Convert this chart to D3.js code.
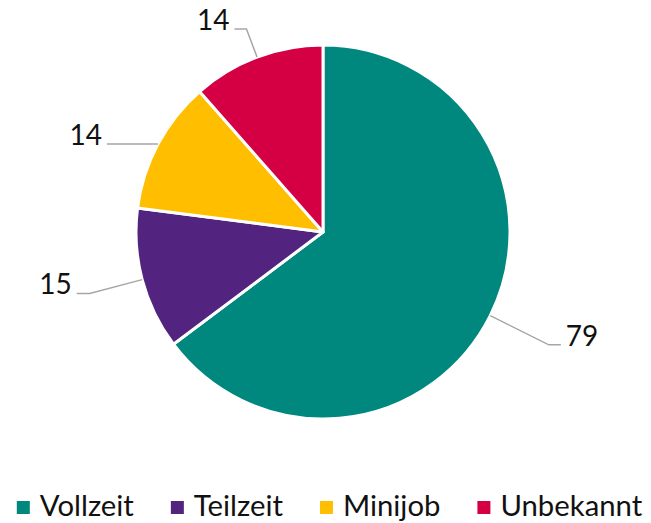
<!DOCTYPE html>
<html>
<head>
<meta charset="utf-8">
<script src="https://cdn.jsdelivr.net/npm/d3@7"></script>
<style>
  html, body { margin: 0; padding: 0; background: #fff; }
  svg { display: block; }
  text { font-family: Lato, "Open Sans", sans-serif; fill: #111; }
</style>
</head>
<body>
<script>
// Data
const categories = ["Vollzeit", "Teilzeit", "Minijob", "Unbekannt"];
const values = [79, 15, 14, 14];
const colors = ["#00877E", "#52247F", "#FFBF00", "#D40043"];

// Label layout (elbow radius factor, horizontal segment length)
const labelElbowK = [1.35, 1.29, 1.0, 1.16];
const labelHoriz = [12, 13, 51, 12];

const W = 651, H = 523;
const cx = 323, cy = 232, R = 187;
const fontSize = 28;
const legendFontSize = 29.3;

const svg = d3.select("body").append("svg").attr("width", W).attr("height", H);
const g = svg.append("g").attr("transform", `translate(${cx},${cy})`);

const data = categories.map((c, i) => ({ name: c, value: values[i], color: colors[i], i }));
const pie = d3.pie().value(d => d.value).sort(null).startAngle(0).endAngle(2 * Math.PI);
const arcs = pie(data);
const arc = d3.arc().innerRadius(0).outerRadius(R);

g.selectAll("path.slice").data(arcs).enter().append("path")
  .attr("class", "slice")
  .attr("d", arc)
  .attr("fill", d => d.data.color)
  .attr("stroke", "#fff")
  .attr("stroke-width", 3)
  .attr("stroke-linejoin", "round");

// Leader lines and labels
function pt(angle, r) { return [r * Math.sin(angle), -r * Math.cos(angle)]; }
arcs.forEach((a, i) => {
  const mid = (a.startAngle + a.endAngle) / 2;
  const p0 = pt(mid, R);
  const p1 = pt(mid, R * labelElbowK[i]);
  const right = Math.sin(mid) > 0;
  const p2 = [p1[0] + (right ? 1 : -1) * labelHoriz[i], p1[1]];
  g.append("polyline")
    .attr("points", [p0, p1, p2].map(p => p.join(",")).join(" "))
    .attr("fill", "none")
    .attr("stroke", "#A6A6A6")
    .attr("stroke-width", 1.5);
  g.append("text")
    .attr("x", p2[0] + (right ? 5 : -5))
    .attr("y", p2[1] + 1)
    .attr("text-anchor", right ? "start" : "end")
    .attr("font-size", fontSize)
    .text(a.data.value);
});

// Legend
const leg = svg.append("g");
const sq = 13, gapSqText = 10, gapItems = 37;
let x = 0;
data.forEach((d, i) => {
  const it = leg.append("g");
  it.append("rect").attr("x", x).attr("y", 501).attr("width", sq).attr("height", sq).attr("fill", d.color);
  const t = it.append("text").attr("x", x + sq + gapSqText).attr("y", 516)
    .attr("font-size", legendFontSize).text(d.name);
  const w = t.node().getComputedTextLength();
  x += sq + gapSqText + w + gapItems;
});
const totalW = x - gapItems;
leg.attr("transform", `translate(${(W - totalW) / 2 + 4},0)`);
</script>
</body>
</html>
